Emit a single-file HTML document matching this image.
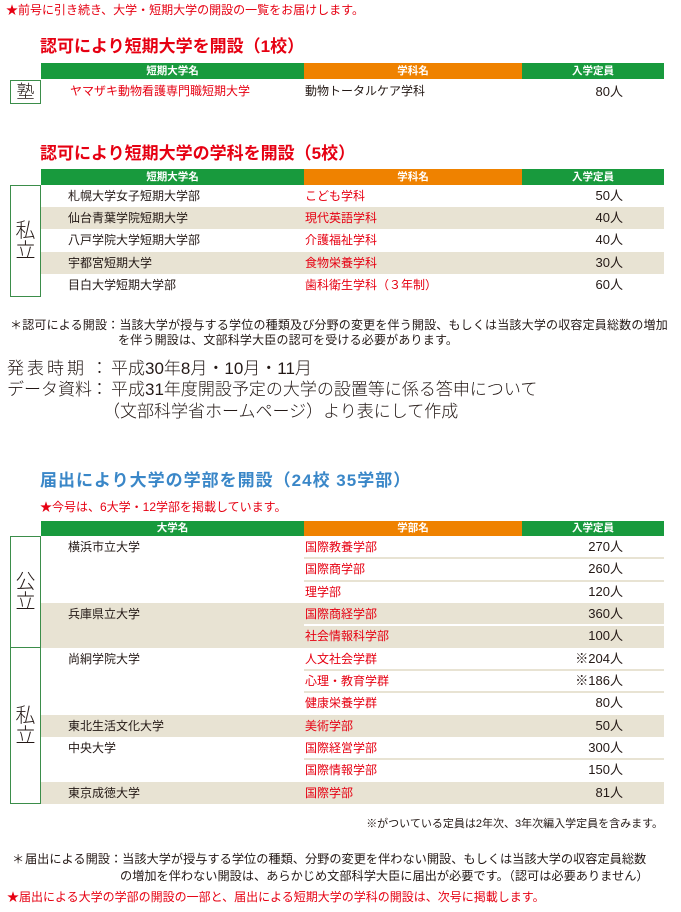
<!DOCTYPE html>
<html lang="ja"><head><meta charset="utf-8">
<style>
*{margin:0;padding:0;box-sizing:border-box}
html,body{width:681px;height:912px;overflow:hidden;background:#fff}
body{position:relative;font-family:"Liberation Sans","Noto Sans CJK JP",sans-serif;color:#231815}
div{position:absolute;white-space:nowrap}
.r{color:#e60012}
.tt{font-size:17px;font-weight:bold;line-height:20px;left:40px}
.g{background:#189a3d}
.o{background:#ef8200}
.h{color:#fff;font-size:10.5px;font-weight:bold;text-align:center}
.bg{background:#e8e3d3}
.c{font-size:12px;height:22px;line-height:22px}
.n{left:68px}
.d{left:305px}
.q{right:58px;text-align:right;font-size:13px}
.box{left:10px;width:31px;border:1px solid #3b8d4a;display:flex;align-items:center;justify-content:center;font-size:20px;line-height:20px;text-align:center;white-space:normal;font-weight:300}
.box span{display:block}
.sepb{left:304px;width:360px;height:2px;background:#e8e3d3}
.sepw{left:304px;width:360px;height:2px;background:#fff}
</style>
</head>
<body>

<div class="r" style="left:6px;top:2px;font-size:12px;line-height:16px">★前号に引き続き、大学・短期大学の開設の一覧をお届けします。</div>

<!-- Table 1 -->
<div class="tt r" style="top:37px">認可により短期大学を開設（1校）</div>
<div class="g h" style="left:41px;top:63px;width:263px;height:16px;line-height:16px">短期大学名</div>
<div class="o h" style="left:304px;top:63px;width:218px;height:16px;line-height:16px">学科名</div>
<div class="g h" style="left:522px;top:63px;width:142px;height:16px;line-height:16px">入学定員</div>
<div class="box" style="top:80px;height:24px;font-size:18px"><span>塾</span></div>
<div class="c r" style="left:70px;top:80px;height:23px;line-height:23px">ヤマザキ動物看護専門職短期大学</div>
<div class="c d" style="top:80px;height:23px;line-height:23px">動物トータルケア学科</div>
<div class="c q" style="top:80px;height:23px;line-height:23px">80人</div>

<!-- Table 2 -->
<div class="tt r" style="top:144px">認可により短期大学の学科を開設（5校）</div>
<div class="g h" style="left:41px;top:169px;width:263px;height:16px;line-height:16px">短期大学名</div>
<div class="o h" style="left:304px;top:169px;width:218px;height:16px;line-height:16px">学科名</div>
<div class="g h" style="left:522px;top:169px;width:142px;height:16px;line-height:16px">入学定員</div>
<div class="bg" style="left:41px;top:207.2px;width:623px;height:22.2px"></div>
<div class="bg" style="left:41px;top:251.6px;width:623px;height:22.2px"></div>
<div class="box" style="top:185px;height:112px"><span>私<br>立</span></div>

<div class="c n" style="top:185px">札幌大学女子短期大学部</div>
<div class="c d r" style="top:185px">こども学科</div>
<div class="c q" style="top:185px">50人</div>

<div class="c n" style="top:207.2px">仙台青葉学院短期大学</div>
<div class="c d r" style="top:207.2px">現代英語学科</div>
<div class="c q" style="top:207.2px">40人</div>

<div class="c n" style="top:229.4px">八戸学院大学短期大学部</div>
<div class="c d r" style="top:229.4px">介護福祉学科</div>
<div class="c q" style="top:229.4px">40人</div>

<div class="c n" style="top:251.6px">宇都宮短期大学</div>
<div class="c d r" style="top:251.6px">食物栄養学科</div>
<div class="c q" style="top:251.6px">30人</div>

<div class="c n" style="top:273.8px">目白大学短期大学部</div>
<div class="c d r" style="top:273.8px">歯科衛生学科（３年制）</div>
<div class="c q" style="top:273.8px">60人</div>

<!-- Footnote 1 -->
<div style="left:10px;top:317px;font-size:12px;line-height:16px;letter-spacing:.19px">＊認可による開設：当該大学が授与する学位の種類及び分野の変更を伴う開設、もしくは当該大学の収容定員総数の増加</div>
<div style="left:118px;top:332px;font-size:12px;line-height:16px;letter-spacing:.19px">を伴う開設は、文部科学大臣の認可を受ける必要があります。</div>

<div style="left:7px;top:358px;font-size:17px;line-height:22px;letter-spacing:3px;font-weight:300">発表時期</div>
<div style="left:91px;top:358px;font-size:17px;line-height:22px;font-weight:300">：</div>
<div style="left:111px;top:358px;font-size:17px;line-height:22px;font-weight:300">平成30年8月・10月・11月</div>
<div style="left:7px;top:379px;font-size:17px;line-height:22px;font-weight:300">データ資料</div>
<div style="left:91px;top:379px;font-size:17px;line-height:22px;font-weight:300">：</div>
<div style="left:111px;top:379px;font-size:17px;line-height:22px;font-weight:300">平成31年度開設予定の大学の設置等に係る答申について</div>
<div style="left:103px;top:401px;font-size:17px;line-height:22px;font-weight:300">（文部科学省ホームページ）より表にして作成</div>

<!-- Table 3 -->
<div class="tt" style="top:471px;color:#3a87c8;letter-spacing:1px">届出により大学の学部を開設（24校 35学部）</div>
<div class="r" style="left:40px;top:499px;font-size:12px;line-height:16px">★今号は、6大学・12学部を掲載しています。</div>

<div class="g h" style="left:41px;top:521px;width:263px;height:15px;line-height:15px">大学名</div>
<div class="o h" style="left:304px;top:521px;width:218px;height:15px;line-height:15px">学部名</div>
<div class="g h" style="left:522px;top:521px;width:142px;height:15px;line-height:15px">入学定員</div>

<div class="bg" style="left:41px;top:603px;width:623px;height:44.7px"></div>
<div class="bg" style="left:41px;top:714.7px;width:623px;height:22.3px"></div>
<div class="bg" style="left:41px;top:781.7px;width:623px;height:22.3px"></div>

<div class="sepb" style="top:557.3px"></div>
<div class="sepb" style="top:579.7px"></div>
<div class="sepw" style="top:624.3px"></div>
<div class="sepb" style="top:669px"></div>
<div class="sepb" style="top:691.3px"></div>
<div class="sepb" style="top:758.3px"></div>

<div class="box" style="top:536px;height:112px"><span>公<br>立</span></div>
<div class="box" style="top:647px;height:157px"><span>私<br>立</span></div>

<div class="c n" style="top:536px">横浜市立大学</div>
<div class="c d r" style="top:536px">国際教養学部</div>
<div class="c q" style="top:536px">270人</div>
<div class="c d r" style="top:558.3px">国際商学部</div>
<div class="c q" style="top:558.3px">260人</div>
<div class="c d r" style="top:580.7px">理学部</div>
<div class="c q" style="top:580.7px">120人</div>

<div class="c n" style="top:603px">兵庫県立大学</div>
<div class="c d r" style="top:603px">国際商経学部</div>
<div class="c q" style="top:603px">360人</div>
<div class="c d r" style="top:625.3px">社会情報科学部</div>
<div class="c q" style="top:625.3px">100人</div>

<div class="c n" style="top:647.7px">尚絅学院大学</div>
<div class="c d r" style="top:647.7px">人文社会学群</div>
<div class="c q" style="top:647.7px">※204人</div>
<div class="c d r" style="top:670px">心理・教育学群</div>
<div class="c q" style="top:670px">※186人</div>
<div class="c d r" style="top:692.3px">健康栄養学群</div>
<div class="c q" style="top:692.3px">80人</div>

<div class="c n" style="top:714.7px">東北生活文化大学</div>
<div class="c d r" style="top:714.7px">美術学部</div>
<div class="c q" style="top:714.7px">50人</div>

<div class="c n" style="top:737px">中央大学</div>
<div class="c d r" style="top:737px">国際経営学部</div>
<div class="c q" style="top:737px">300人</div>
<div class="c d r" style="top:759.3px">国際情報学部</div>
<div class="c q" style="top:759.3px">150人</div>

<div class="c n" style="top:781.7px">東京成徳大学</div>
<div class="c d r" style="top:781.7px">国際学部</div>
<div class="c q" style="top:781.7px">81人</div>

<div style="right:18px;top:816px;font-size:11px;line-height:16px">※がついている定員は2年次、3年次編入学定員を含みます。</div>

<div style="left:12px;top:851px;font-size:12.2px;line-height:16px">＊</div>
<div style="left:25px;top:851px;font-size:12.2px;line-height:16px">届出による開設：当該大学が授与する学位の種類、分野の変更を伴わない開設、もしくは当該大学の収容定員総数</div>
<div style="left:120px;top:868px;font-size:12.2px;line-height:16px">の増加を伴わない開設は、あらかじめ文部科学大臣に届出が必要です。（認可は必要ありません）</div>

<div class="r" style="left:7px;top:889px;font-size:12px;line-height:16px">★届出による大学の学部の開設の一部と、届出による短期大学の学科の開設は、次号に掲載します。</div>

</body></html>
